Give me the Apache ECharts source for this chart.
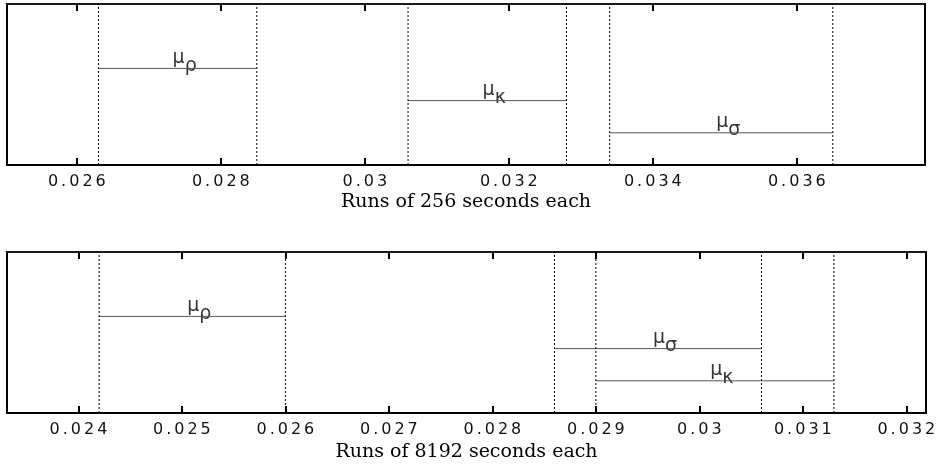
<!DOCTYPE html>
<html>
<head>
<meta charset="utf-8">
<script src="https://cdn.jsdelivr.net/npm/echarts@6/dist/echarts.min.js"></script>
<style>
  html, body { margin: 0; padding: 0; background: #fff; }
  #chart { width: 940px; height: 465px; }
</style>
</head>
<body>
<div id="chart"></div>
<script>
// ticks and labels
const topTicks = [0.026, 0.028, 0.030, 0.032, 0.034, 0.036];
const topTickLabels = ['0.026', '0.028', '0.03', '0.032', '0.034', '0.036'];
const botTicks = [0.024, 0.025, 0.026, 0.027, 0.028, 0.029, 0.030, 0.031, 0.032];
const botTickLabels = ['0.024', '0.025', '0.026', '0.027', '0.028', '0.029', '0.03', '0.031', '0.032'];

// intervals, runs of 256 s
const topNames = ['ρ', 'κ', 'σ'];
const topStart = [0.0263, 0.0306, 0.0334];
const topEnd = [0.0285, 0.0328, 0.0365];
const topLevel = [0.6, 0.4, 0.2];

// intervals, runs of 8192 s
const botNames = ['ρ', 'σ', 'κ'];
const botStart = [0.0242, 0.0286, 0.0290];
const botEnd = [0.0260, 0.0306, 0.0313];
const botLevel = [0.6, 0.4, 0.2];

const topRange = [0.02503, 0.03778];
const botRange = [0.02331, 0.03219];

const chart = echarts.init(document.getElementById('chart'));

// spaced out digits like the tex font
function spaced(s) {
  return s.split('').map(c => '{c|' + c + '}').join('');
}

function xAxes(gridIndex, range, ticks, labels, name, nameGap, margin) {
  const base = {
    type: 'value', gridIndex: gridIndex, min: range[0], max: range[1],
    splitLine: { show: false },
    axisTick: { inside: true, length: 7, customValues: ticks, lineStyle: { color: '#000', width: 2 } }
  };
  return [
    Object.assign({}, base, {
      position: 'bottom',
      name: name, nameLocation: 'middle', nameGap: nameGap,
      nameTextStyle: { fontFamily: 'DejaVu Serif', fontSize: 19, color: '#000' },
      axisLine: { show: true, onZero: false, lineStyle: { color: '#000', width: 2 } },
      axisLabel: {
        customValues: ticks, margin: margin, color: '#000',
        formatter: function (v) {
          const i = ticks.findIndex(t => Math.abs(t - v) < 1e-9);
          return i >= 0 ? spaced(labels[i]) : '';
        },
        rich: {
          c: { fontFamily: 'DejaVu Sans', fontSize: 16, color: '#111', padding: [0, 1.5, 0, 1.5] }
        }
      }
    }),
    Object.assign({}, base, {
      position: 'top',
      axisLine: { show: true, onZero: false, lineStyle: { color: '#222', width: 1.5 } },
      axisLabel: { show: false }
    })
  ];
}

function panelSeries(xBottom, yIdx, names, starts, ends, levels) {
  const out = [];
  const edges = [];
  for (let i = 0; i < names.length; i++) {
    edges.push(starts[i], ends[i]);
    out.push({
      type: 'line', xAxisIndex: xBottom, yAxisIndex: yIdx, symbol: 'none', silent: true,
      lineStyle: { color: '#555', width: 1 },
      data: [[starts[i], levels[i]], [ends[i], levels[i]]]
    });
    out.push({
      type: 'scatter', xAxisIndex: xBottom, yAxisIndex: yIdx, symbolSize: 0, silent: true,
      data: [[(starts[i] + ends[i]) / 2, levels[i]]],
      label: {
        show: true, position: 'top', distance: -7, offset: [7, 0],
        formatter: '{m|μ}{s|' + names[i] + '}',
        rich: {
          m: { fontFamily: 'DejaVu Sans', fontSize: 19, color: '#000', verticalAlign: 'top', lineHeight: 19 },
          s: { fontFamily: 'DejaVu Sans', fontSize: 19, color: '#000', verticalAlign: 'bottom', lineHeight: 27 }
        }
      }
    });
  }
  edges.forEach(function (x) {
    out.push({
      type: 'line', xAxisIndex: xBottom, yAxisIndex: yIdx, symbol: 'none', silent: true,
      lineStyle: { color: '#000', width: 1, type: [2, 2] },
      data: [[x, 0], [x, 1]]
    });
  });
  return out;
}

const yBase = {
  type: 'value', min: 0, max: 1,
  axisLabel: { show: false }, axisTick: { show: false }, splitLine: { show: false },
  axisLine: { show: true, lineStyle: { color: '#000', width: 2 } }
};

chart.setOption({
  animation: false,
  grid: [
    { left: 7, top: 4, width: 918, height: 161, show: true, borderColor: '#000', borderWidth: 2 },
    { left: 7, top: 252, width: 919, height: 161, show: true, borderColor: '#000', borderWidth: 2 }
  ],
  xAxis: xAxes(0, topRange, topTicks, topTickLabels, 'Runs of 256 seconds each', 28, 9)
    .concat(xAxes(1, botRange, botTicks, botTickLabels, 'Runs of 8192 seconds each', 30, 9)),
  yAxis: [
    Object.assign({ gridIndex: 0 }, yBase),
    Object.assign({ gridIndex: 1 }, yBase)
  ],
  series: panelSeries(0, 0, topNames, topStart, topEnd, topLevel)
    .concat(panelSeries(2, 1, botNames, botStart, botEnd, botLevel))
});
</script>
</body>
</html>
